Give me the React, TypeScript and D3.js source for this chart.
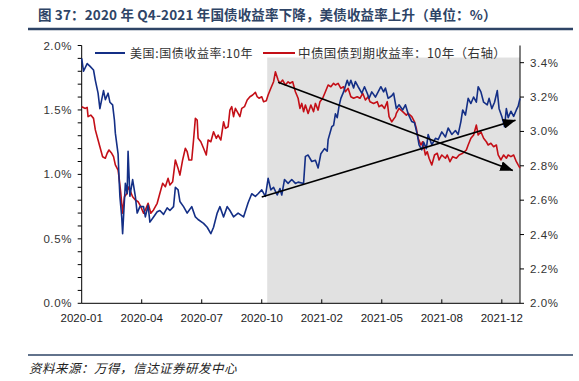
import React from "react";
import * as d3 from "d3";

// trading-day index (x) and yield values (%)
const usDay = [0,2,6,9,13,15,18,20,24,26,29,31,34,36,37,40,41,42,44,45,48,50,51,53,56,59,61,64,68,70,73,75,79,83,86,90,94,97,101,103,106,108,112,116,121,125,128,134,138,142,145,149,152,156,160,163,167,172,178,183,187,191,194,198,202,205,208,211,215,218,220,223,227,231,235,238,244,246,249,253,257,260,263,267,270,271,275,277,279,281,283,285,288,292,294,296,299,301,304,308,311,314,316,319,323,326,329,332,334,337,341,343,346,349,353,356,359,363,366,369,371,374,376,379,381,385,389,392,396,400,403,407,411,414,417,419,422,425,428,431,434,436,439,442,446,448,451,454,457,459,462,465,467,469,472,475,478,480,482];
const usVal = [1.90,1.80,1.86,1.84,1.81,1.73,1.63,1.51,1.65,1.58,1.63,1.56,1.54,1.42,1.32,1.16,0.98,0.83,0.67,0.54,0.93,0.85,1.18,0.83,0.96,0.83,0.70,0.75,0.75,0.67,0.76,0.63,0.67,0.71,0.72,0.69,0.74,0.72,0.75,0.90,0.88,0.79,0.75,0.70,0.75,0.67,0.65,0.62,0.59,0.54,0.59,0.70,0.75,0.67,0.75,0.72,0.67,0.70,0.67,0.78,0.85,0.83,0.85,0.88,0.83,0.97,0.88,0.90,0.84,0.89,0.84,0.96,0.93,0.96,0.93,0.94,0.93,1.14,1.15,1.10,1.11,1.05,1.16,1.20,1.18,1.27,1.37,1.38,1.47,1.44,1.53,1.59,1.64,1.73,1.69,1.73,1.67,1.72,1.68,1.63,1.68,1.63,1.59,1.64,1.60,1.64,1.68,1.64,1.67,1.59,1.61,1.63,1.51,1.54,1.50,1.54,1.47,1.41,1.40,1.31,1.23,1.19,1.25,1.20,1.31,1.23,1.28,1.27,1.33,1.29,1.36,1.31,1.34,1.31,1.41,1.50,1.46,1.59,1.55,1.60,1.56,1.68,1.64,1.56,1.54,1.59,1.51,1.56,1.65,1.51,1.45,1.37,1.51,1.44,1.49,1.45,1.50,1.53,1.59];
const cnDay = [0,4,6,7,10,13,15,18,20,23,26,28,30,33,35,37,40,41,43,45,47,50,51,53,56,59,62,65,68,70,73,76,79,83,86,89,92,95,97,100,103,106,108,111,114,116,118,121,123,125,127,128,131,134,137,139,142,145,148,150,153,156,158,161,163,165,167,169,171,174,176,179,182,185,188,191,193,195,198,200,203,205,208,211,213,216,218,221,224,227,229,232,235,238,240,242,244,246,249,252,255,257,260,262,265,268,271,274,277,279,282,285,288,290,293,296,299,303,306,309,312,315,317,321,325,327,330,333,336,338,341,345,346,349,353,357,359,363,366,368,370,373,375,378,380,382,385,388,391,393,396,400,402,405,408,412,415,419,423,425,428,431,434,436,439,442,445,447,450,453,456,458,461,464,467,469,472,475,478,480,482];
const cnVal = [3.144,3.134,3.140,3.086,3.095,3.076,3.009,2.950,2.911,2.853,2.844,2.873,2.892,2.873,2.853,2.805,2.775,2.736,2.640,2.524,2.620,2.640,2.678,2.659,2.620,2.601,2.591,2.562,2.524,2.543,2.582,2.524,2.543,2.582,2.640,2.698,2.678,2.727,2.688,2.707,2.834,2.785,2.746,2.834,2.902,2.882,2.834,2.834,2.950,3.076,3.066,2.960,2.940,2.902,2.863,2.950,2.940,2.998,2.960,2.979,2.950,3.056,3.018,3.027,3.124,3.144,3.086,3.134,3.115,3.086,3.134,3.144,3.183,3.202,3.212,3.227,3.202,3.193,3.202,3.173,3.179,3.212,3.251,3.289,3.347,3.299,3.280,3.299,3.270,3.289,3.280,3.289,3.231,3.193,3.134,3.163,3.115,3.154,3.105,3.154,3.115,3.163,3.124,3.173,3.193,3.231,3.270,3.260,3.280,3.270,3.280,3.251,3.260,3.231,3.251,3.202,3.193,3.202,3.193,3.222,3.183,3.202,3.173,3.163,3.173,3.144,3.154,3.134,3.173,3.086,3.056,3.086,3.105,3.134,3.115,3.095,3.105,3.086,3.056,3.018,2.960,2.921,2.940,2.863,2.882,2.844,2.805,2.863,2.873,2.834,2.863,2.844,2.863,2.824,2.853,2.844,2.863,2.873,2.892,2.921,2.960,2.979,3.037,2.979,2.998,2.960,2.940,2.921,2.931,2.911,2.921,2.863,2.834,2.863,2.844,2.863,2.853,2.863,2.824,2.805,2.787];

const xTickDays = [0, 66, 132, 198, 264, 330, 396, 462];
const xTickLabels = ["2020-01", "2020-04", "2020-07", "2020-10", "2021-02", "2021-05", "2021-08", "2021-12"];
const leftTicks = [0, 0.5, 1.0, 1.5, 2.0];
const leftMinorTicks = d3.range(0, 21).map((i) => i / 10);
const rightTicks = [2.0, 2.2, 2.4, 2.6, 2.8, 3.0, 3.2, 3.4];
const shadeStart = 204;
const shadeEnd = 482;
const shadeTop = 3.43;
const arrowDown = { from: [216, 3.286], to: [474, 2.773] }; // right axis
const arrowUp = { from: [198, 0.825], to: [477, 1.42] }; // left axis

const seriesNames = ["美国:国债收益率:10年", "中债国债到期收益率：10年（右轴）"];
const title = "图 37：2020 年 Q4-2021 年国债收益率下降，美债收益率上升（单位：%）";
const source = "资料来源：万得，信达证券研发中心";

const BLUE = "#142f86";
const RED = "#c40f17";
const NAVY = "#2e4466";

export default function App() {
  const left = 81.7, right = 520, top = 45.5, bottom = 303.3;
  const x = d3.scaleLinear().domain([0, 482]).range([left, right]);
  const yL = d3.scaleLinear().domain([0, 2]).range([bottom, top]);
  const yR = d3.scaleLinear().domain([2.0, 3.5]).range([bottom, top]);

  const usLine = d3.line<number>().x((_, i) => x(usDay[i])).y((v) => yL(v));
  const cnLine = d3.line<number>().x((_, i) => x(cnDay[i])).y((v) => yR(v));

  const tickFont = "'Liberation Sans', Arial, sans-serif";
  const cjkFont = "'Noto Sans CJK SC', sans-serif";

  return (
    <svg width={579} height={381} style={{ position: "absolute", left: 0, top: 0, background: "#fff" }}>
      <defs>
        <marker id="ah" viewBox="0 0 13 10" refX={12.5} refY={5} markerWidth={13} markerHeight={10}
          markerUnits="userSpaceOnUse" orient="auto">
          <path d="M0,0 L13,5 L0,10 z" fill="#000" />
        </marker>
      </defs>
      <rect width={579} height={381} fill="#fff" />
      {/* title */}
      <text x={38} y={20} fontFamily={cjkFont} fontWeight={700} fontSize={13.5} fill={NAVY} letterSpacing={0.15}>{title}</text>
      <line x1={28} x2={573} y1={29} y2={29} stroke={NAVY} strokeWidth={2.5} />

      {/* shaded period */}
      <rect x={x(shadeStart)} y={yR(shadeTop)} width={x(shadeEnd) - x(shadeStart)} height={bottom - yR(shadeTop)} fill="#e1e1e1" />

      {/* axes */}
      <line x1={left} x2={left} y1={top} y2={bottom} stroke="#000" strokeWidth={1} />
      <line x1={right} x2={right} y1={top} y2={bottom} stroke="#000" strokeWidth={1} />
      <line x1={left} x2={right} y1={bottom} y2={bottom} stroke="#000" strokeWidth={1} />
      {leftMinorTicks.map((v) => (
        <line key={"lm" + v} x1={left - 4} x2={left} y1={yL(v)} y2={yL(v)} stroke="#000" strokeWidth={1} />
      ))}
      {leftTicks.map((v) => (
        <text key={"lt" + v} x={72} y={yL(v) + 4} textAnchor="end" fontFamily={tickFont} fontSize={11.5} fill="#333" letterSpacing={0.6}>
          {v.toFixed(1) + "%"}
        </text>
      ))}
      {rightTicks.map((v) => (
        <g key={"rt" + v}>
          <line x1={right} x2={right + 4} y1={yR(v)} y2={yR(v)} stroke="#000" strokeWidth={1} />
          <text x={530} y={yR(v) + 4} fontFamily={tickFont} fontSize={11.5} fill="#333" letterSpacing={0.6}>
            {v.toFixed(1) + "%"}
          </text>
        </g>
      ))}
      {xTickDays.map((d, i) => (
        <g key={"xt" + d}>
          {i > 0 && <line x1={x(d)} x2={x(d)} y1={bottom} y2={bottom - 4} stroke="#000" strokeWidth={1} />}
          <text x={x(d)} y={322} textAnchor="middle" fontFamily={tickFont} fontSize={11.5} fill="#222">
            {xTickLabels[i]}
          </text>
        </g>
      ))}

      {/* series */}
      <path d={cnLine(cnVal) || ""} fill="none" stroke={RED} strokeWidth={1.6} strokeLinejoin="round" />
      <path d={usLine(usVal) || ""} fill="none" stroke={BLUE} strokeWidth={1.6} strokeLinejoin="round" />

      {/* trend arrows */}
      <line x1={x(arrowDown.from[0])} y1={yR(arrowDown.from[1])} x2={x(arrowDown.to[0])} y2={yR(arrowDown.to[1])}
        stroke="#000" strokeWidth={1.6} markerEnd="url(#ah)" />
      <line x1={x(arrowUp.from[0])} y1={yL(arrowUp.from[1])} x2={x(arrowUp.to[0])} y2={yL(arrowUp.to[1])}
        stroke="#000" strokeWidth={1.6} markerEnd="url(#ah)" />

      {/* legend */}
      <line x1={95} x2={125} y1={53} y2={53} stroke={BLUE} strokeWidth={2} />
      <text x={130} y={57.5} fontFamily={cjkFont} fontSize={12} fill="#333" letterSpacing={0.6}>{seriesNames[0]}</text>
      <line x1={263} x2={295} y1={53} y2={53} stroke={RED} strokeWidth={2} />
      <text x={298} y={57.5} fontFamily={cjkFont} fontSize={12.5} fill="#333" letterSpacing={0.4}>{seriesNames[1]}</text>

      {/* footer */}
      <line x1={28} x2={573} y1={355} y2={355} stroke={NAVY} strokeWidth={1.5} />
      <text x={29} y={373} fontFamily={cjkFont} fontSize={12.5} fontStyle="italic" fill="#222" letterSpacing={0.5}>{source}</text>
    </svg>
  );
}
